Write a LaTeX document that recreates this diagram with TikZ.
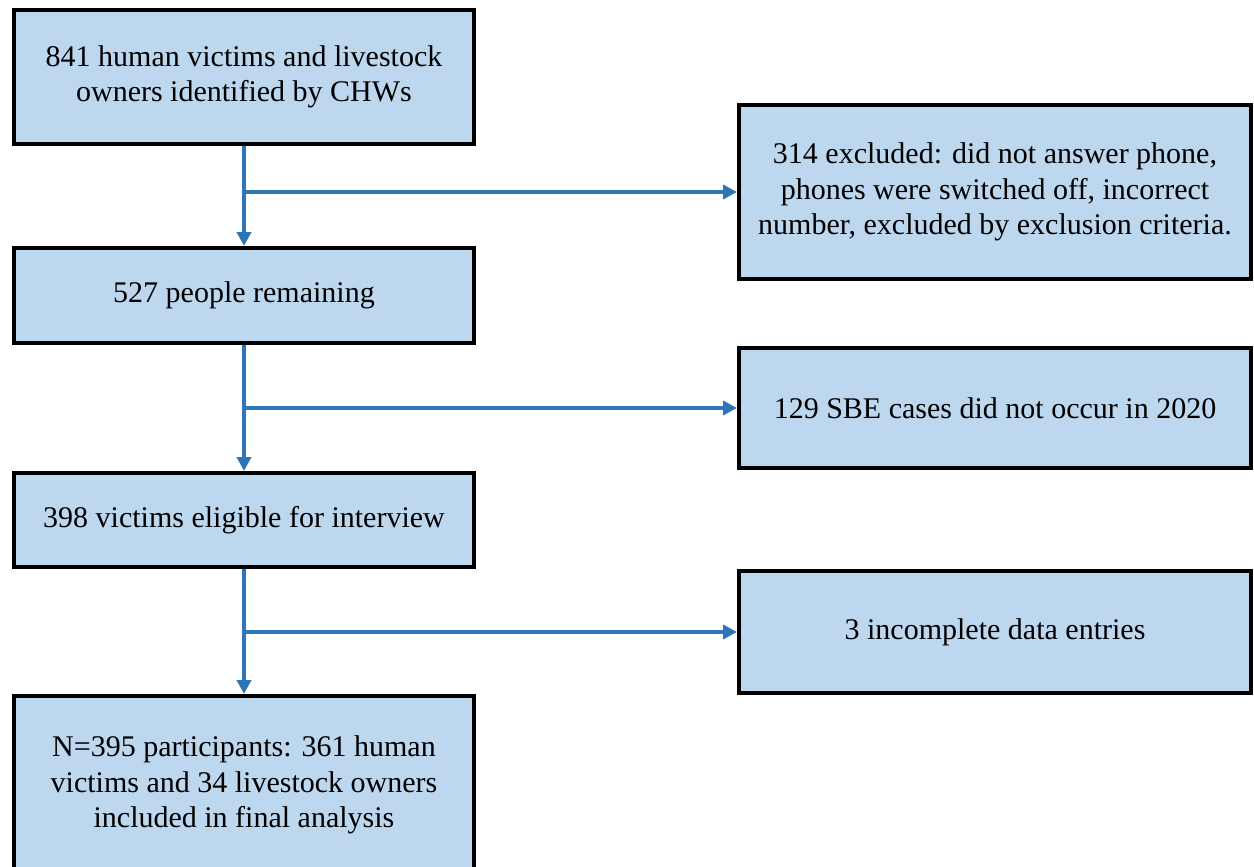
\documentclass[tikz,border=0pt]{standalone}
\usepackage{fontspec}
\newfontfamily\tnr{Liberation Serif}
\usetikzlibrary{arrows.meta}
\definecolor{boxfill}{HTML}{BDD7EE}
\definecolor{arrowblue}{HTML}{2E75B6}
\begin{document}
\begin{tikzpicture}[x=1pt,y=-1pt,
  box/.style={draw=black, line width=4pt, fill=boxfill, align=center,
    inner sep=0pt, font=\tnr\fontsize{30}{35.5}\selectfont},
  flow/.style={draw=arrowblue, line width=4pt, -{Triangle[length=14pt,width=14pt]}}]
\useasboundingbox (0,0) rectangle (1254,867);
\clip (0,0) rectangle (1254,867);
\fill[white] (0,0) rectangle (1254,867);
\node[box, minimum width=460pt, minimum height=133pt] (b1) at (244,77)
  {841 human victims and livestock\\owners identified by CHWs};
\node[box, minimum width=460pt, minimum height=95pt] (b2) at (244,295.5)
  {527 people remaining};
\node[box, minimum width=460pt, minimum height=94pt] (b3) at (244,520)
  {398 victims eligible for interview};
\node[box, minimum width=460pt, minimum height=178pt] (b4) at (244,785)
  {N=395 participants: 361 human\\victims and 34 livestock owners\\included in final analysis};
\node[box, minimum width=512pt, minimum height=174pt] (r1) at (995,192)
  {314 excluded: did not answer phone,\\phones were switched off, incorrect\\number, excluded by exclusion criteria.};
\node[box, minimum width=512pt, minimum height=120pt] (r2) at (995,408)
  {129 SBE cases did not occur in 2020};
\node[box, minimum width=512pt, minimum height=122pt] (r3) at (995,632)
  {3 incomplete data entries};
\draw[flow] (b1.south) -- (b2.north);
\draw[flow] (b2.south) -- (b3.north);
\draw[flow] (b3.south) -- (b4.north);
\draw[flow] (b1.south |- r1.west) -- (r1.west);
\draw[flow] (b2.south |- r2.west) -- (r2.west);
\draw[flow] (b3.south |- r3.west) -- (r3.west);
\end{tikzpicture}
\end{document}
